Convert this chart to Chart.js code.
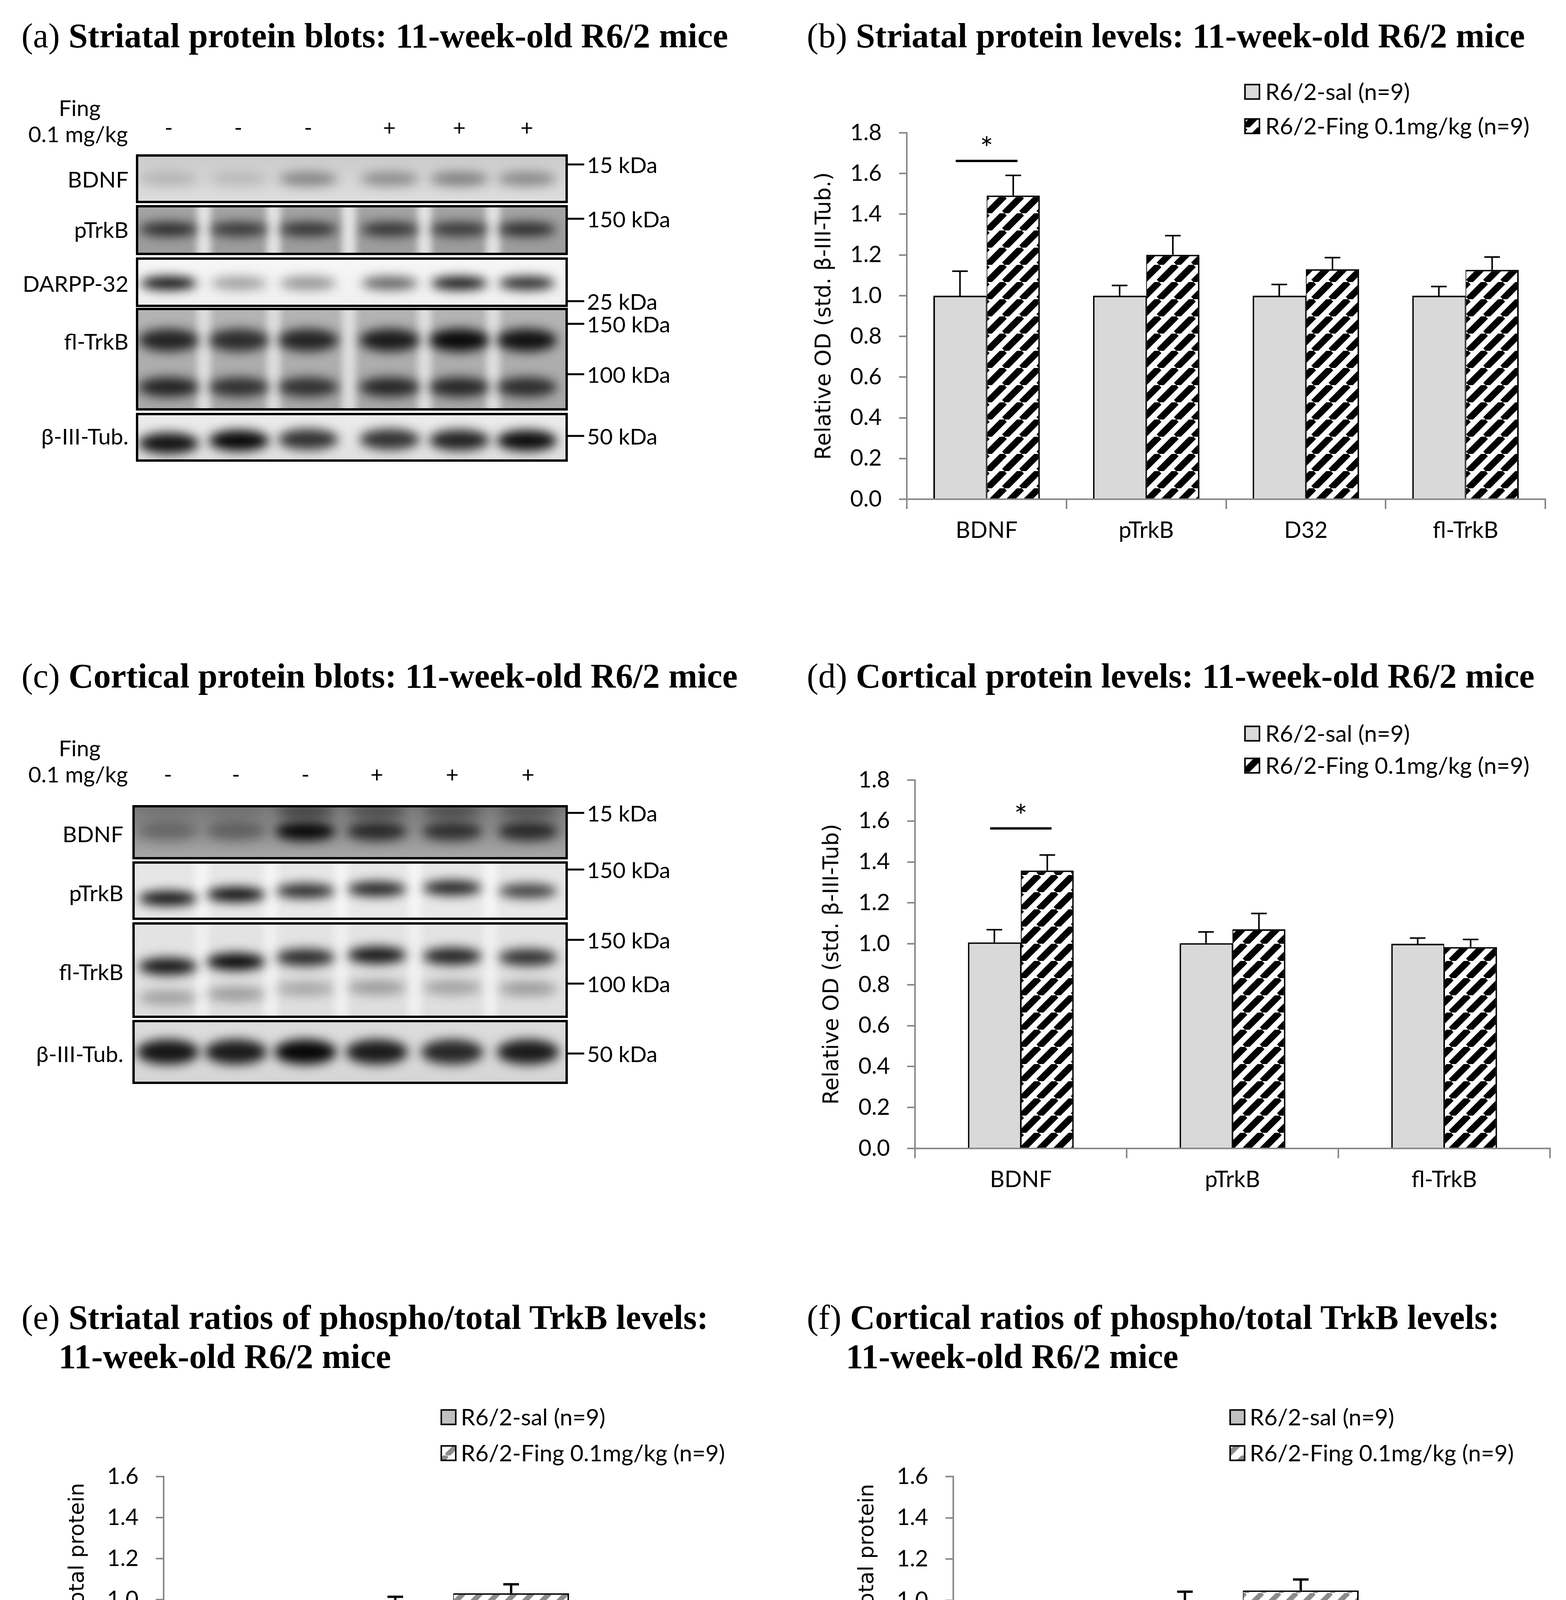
<!DOCTYPE html>
<html>
<head>
<meta charset="utf-8">
<title>R6/2 fingolimod blots</title>
<script src="https://cdn.jsdelivr.net/npm/chart.js@4.4.1/dist/chart.umd.min.js"></script>
<style>
  html, body { margin: 0; padding: 0; background: #fff; }
  #page { position: relative; width: 4010px; height: 4773px; overflow: hidden; background: #fff; }
  .title { position: absolute; font-family: "Liberation Serif", serif; font-weight: bold; white-space: nowrap; line-height: 1; color: #000; }
  .title .tag { font-weight: normal; }
  .lbl { position: absolute; font-family: Lato, sans-serif; font-size: 57px; white-space: nowrap; line-height: 1; color: #000; }
  canvas { position: absolute; }
</style>
</head>
<body>
<div id="page">
  <canvas id="blots" width="2000" height="2900" style="left:0;top:0"></canvas>
  <canvas id="chartB" style="left:2000px;top:150px"></canvas>
  <canvas id="chartD" style="left:2000px;top:1800px"></canvas>
  <canvas id="chartE" style="left:0px;top:3550px"></canvas>
  <canvas id="chartF" style="left:2000px;top:3550px"></canvas>
</div>
<script>
// ---- data ----
const seriesNames = ['R6/2-sal (n=9)', 'R6/2-Fing 0.1mg/kg (n=9)'];

const striatalLabels = ['BDNF', 'pTrkB', 'D32', 'fl-TrkB'];
const striatalSal = [1.0, 1.0, 1.0, 1.0];
const striatalSalSem = [0.12, 0.05, 0.055, 0.045];
const striatalFing = [1.492, 1.201, 1.13, 1.127];
const striatalFingSem = [0.099, 0.094, 0.057, 0.063];
const striatalSig = [{ index: 0, line: 1.662, star: 1.75 }];

const corticalLabels = ['BDNF', 'pTrkB', 'fl-TrkB'];
const corticalSal = [1.007, 1.003, 1.0];
const corticalSalSem = [0.062, 0.055, 0.028];
const corticalFing = [1.358, 1.071, 0.984];
const corticalFingSem = [0.076, 0.077, 0.037];
const corticalSig = [{ index: 0, line: 1.564, star: 1.65 }];

const ratioLabels = ['pTrkB/fl-TrkB'];
const striatalRatioSal = [0.985];
const striatalRatioSalSem = [0.029];
const striatalRatioFing = [1.031];
const striatalRatioFingSem = [0.044];
const corticalRatioSal = [0.992];
const corticalRatioSalSem = [0.05];
const corticalRatioFing = [1.048];
const corticalRatioFingSem = [0.053];

const levelTickMax = 1.8;
const ratioTickMax = 1.6;
const tickStep = 0.2;

// blot lanes and labels
const fingSigns = ['-', '-', '-', '+', '+', '+'];
const striatalRows = ['BDNF', 'pTrkB', 'DARPP-32', 'fl-TrkB', 'β-III-Tub.'];
const striatalMarkers = ['15 kDa', '150 kDa', '25 kDa', '150 kDa', '100 kDa', '50 kDa'];
const corticalRows = ['BDNF', 'pTrkB', 'fl-TrkB', 'β-III-Tub.'];
const corticalMarkers = ['15 kDa', '150 kDa', '150 kDa', '100 kDa', '50 kDa'];

// band darkness per lane
const stBdnfBand = [0.15, 0.12, 0.38, 0.34, 0.4, 0.36];
const stPtrkbBand = [0.75, 0.68, 0.7, 0.7, 0.68, 0.75];
const stDarppBand = [0.95, 0.35, 0.4, 0.6, 0.92, 0.85];
const stFlUpper = [0.8, 0.75, 0.8, 0.85, 0.95, 0.9];
const stFlLower = [0.8, 0.72, 0.72, 0.78, 0.78, 0.75];
const stTubBand = [0.92, 0.97, 0.78, 0.78, 0.85, 0.95];
const cxBdnfBand = [0.28, 0.32, 0.95, 0.72, 0.68, 0.72];
const cxBdnfTop = [0.08, 0.1, 0.55, 0.45, 0.45, 0.4];
const cxPtrkbBand = [0.92, 0.95, 0.82, 0.85, 0.85, 0.72];
const cxFlUpper = [0.9, 0.97, 0.82, 0.9, 0.85, 0.78];
const cxFlLower = [0.28, 0.3, 0.25, 0.3, 0.28, 0.3];
const cxTubBand = [0.9, 0.88, 0.97, 0.88, 0.82, 0.88];

// ---- styles ----
const axisGray = '#898989';
const salLight = '#d9d9d9';
const salMid = '#c0c0c0';
const tickFont = 58;

function stripePattern(bg, fg, size, lw) {
  const c = document.createElement('canvas');
  c.width = size; c.height = size;
  const g = c.getContext('2d');
  g.fillStyle = bg; g.fillRect(0, 0, size, size);
  g.strokeStyle = fg; g.lineWidth = lw;
  for (const k of [-size, 0, size]) {
    g.beginPath(); g.moveTo(k, size); g.lineTo(k + size, 0); g.stroke();
  }
  return g.createPattern(c, 'repeat');
}
const blackHatch = stripePattern('#fff', '#000', 44, 17);
const grayHatch = stripePattern('#fff', '#8c8c8c', 44, 13);

Chart.defaults.font.family = 'Lato';
Chart.defaults.color = '#000';

const boxLegend = {
  id: 'boxLegend',
  afterDraw(chart, args, o) {
    const ctx = chart.ctx;
    ctx.save();
    ctx.font = o.fontSize + 'px Lato';
    ctx.textBaseline = 'middle';
    chart.data.datasets.forEach((ds, i) => {
      const y = o.y[i];
      ctx.fillStyle = ds.backgroundColor;
      ctx.fillRect(o.x, y - o.box / 2, o.box, o.box);
      ctx.lineWidth = 4; ctx.strokeStyle = '#000';
      ctx.strokeRect(o.x, y - o.box / 2, o.box, o.box);
      ctx.fillStyle = '#000';
      ctx.fillText(ds.label, o.textX, y + 2);
    });
    ctx.restore();
  }
};

const errorBars = {
  id: 'errorBars',
  afterDatasetsDraw(chart, args, o) {
    const ctx = chart.ctx, ys = chart.scales.y;
    ctx.save();
    ctx.strokeStyle = '#000'; ctx.lineWidth = o.lineWidth;
    chart.data.datasets.forEach((ds, i) => {
      chart.getDatasetMeta(i).data.forEach((bar, j) => {
        const top = ys.getPixelForValue(ds.data[j] + o.sem[i][j]);
        ctx.beginPath();
        ctx.moveTo(bar.x, bar.y); ctx.lineTo(bar.x, top);
        ctx.moveTo(bar.x - o.cap / 2, top); ctx.lineTo(bar.x + o.cap / 2, top);
        ctx.stroke();
      });
    });
    ctx.restore();
  }
};

const sigMarks = {
  id: 'sigMarks',
  afterDatasetsDraw(chart, args, o) {
    if (!o.marks) return;
    const ctx = chart.ctx, ys = chart.scales.y;
    ctx.save();
    o.marks.forEach(m => {
      const a = chart.getDatasetMeta(0).data[m.index];
      const b = chart.getDatasetMeta(1).data[m.index];
      const cx = (a.x + b.x) / 2, half = a.width * 0.58;
      const ly = ys.getPixelForValue(m.line);
      ctx.strokeStyle = '#000'; ctx.lineWidth = 6;
      ctx.beginPath(); ctx.moveTo(cx - half, ly); ctx.lineTo(cx + half, ly); ctx.stroke();
      ctx.fillStyle = '#000';
      ctx.font = '80px Lato';
      ctx.textAlign = 'center'; ctx.textBaseline = 'middle';
      ctx.fillText('*', cx, ys.getPixelForValue(m.star) + 16);
    });
    ctx.restore();
  }
};

function barChart(id, box, c) {
  const el = document.getElementById(id);
  el.width = box.width; el.height = box.height;
  return new Chart(el.getContext('2d'), {
    type: 'bar',
    data: {
      labels: c.labels,
      datasets: [
        { label: seriesNames[0], data: c.sal, backgroundColor: c.salFill, borderColor: '#000',
          borderWidth: { left: 4, top: 4, right: 2, bottom: 0 }, borderSkipped: false,
          categoryPercentage: c.catPct, barPercentage: 1 },
        { label: seriesNames[1], data: c.fing, backgroundColor: c.fingFill, borderColor: '#000',
          borderWidth: { left: 2, top: 4, right: 4, bottom: 0 }, borderSkipped: false,
          categoryPercentage: c.catPct, barPercentage: 1 }
      ]
    },
    options: {
      responsive: false,
      animation: false,
      devicePixelRatio: 1,
      layout: { padding: { left: 0, top: c.area.top - box.top, right: box.left + box.width - c.area.right, bottom: 0 } },
      plugins: {
        legend: { display: false },
        tooltip: { enabled: false },
        boxLegend: { x: c.legend.x - box.left, textX: c.legend.textX - box.left,
                     y: c.legend.y.map(v => v - box.top), box: 37, fontSize: 59 },
        errorBars: { sem: c.sem, cap: 40, lineWidth: c.errWidth },
        sigMarks: { marks: c.sig }
      },
      scales: {
        x: {
          grid: { display: true, drawOnChartArea: false, drawTicks: true, tickLength: 25, color: axisGray, lineWidth: 4, offset: true },
          border: { color: axisGray, width: 4 },
          ticks: { font: { size: tickFont }, padding: c.xPad, color: '#000', maxRotation: 0 },
          afterFit: s => { s.height = box.top + box.height - c.area.bottom; }
        },
        y: {
          min: 0, max: c.max,
          ticks: { stepSize: tickStep, callback: v => v.toFixed(1), font: { size: tickFont }, padding: 44, color: '#000' },
          grid: { drawOnChartArea: false, drawTicks: true, tickLength: 20, color: axisGray, lineWidth: 4 },
          border: { color: axisGray, width: 4 },
          title: { display: true, text: c.yTitle, color: '#000',
                   font: { family: 'DejaVu Sans', size: c.yTitleSize, lineHeight: 1.2 },
                   padding: { top: c.yTitleX - box.left - c.yTitleSize * 0.6, bottom: 0 } },
          afterFit: s => { s.width = c.area.left - box.left; }
        }
      }
    },
    plugins: [boxLegend, errorBars, sigMarks]
  });
}

// (b) striatal levels
barChart('chartB', { left: 2000, top: 150, width: 2010, height: 1300 }, {
  labels: striatalLabels, sal: striatalSal, fing: striatalFing,
  sem: [striatalSalSem, striatalFingSem], sig: striatalSig,
  salFill: salLight, fingFill: blackHatch, catPct: 0.667, max: levelTickMax,
  area: { left: 2322, right: 3957, top: 340, bottom: 1278 },
  legend: { x: 3188, textX: 3240, y: [235, 323] },
  yTitle: 'Relative OD (std. β-III-Tub.)', yTitleSize: 55, yTitleX: 2112,
  errWidth: 4, xPad: 20
});

// (d) cortical levels
barChart('chartD', { left: 2000, top: 1800, width: 2010, height: 1320 }, {
  labels: corticalLabels, sal: corticalSal, fing: corticalFing,
  sem: [corticalSalSem, corticalFingSem], sig: corticalSig,
  salFill: salLight, fingFill: blackHatch, catPct: 0.5, max: levelTickMax,
  area: { left: 2343, right: 3969, top: 1997, bottom: 2940 },
  legend: { x: 3188, textX: 3240, y: [1878, 1960] },
  yTitle: 'Relative OD (std. β-III-Tub)', yTitleSize: 55, yTitleX: 2132,
  errWidth: 4, xPad: 20
});

// (e) striatal ratio
barChart('chartE', { left: 0, top: 3550, width: 2000, height: 1223 }, {
  labels: ratioLabels, sal: striatalRatioSal, fing: striatalRatioFing,
  sem: [striatalRatioSalSem, striatalRatioFingSem], sig: null,
  salFill: salMid, fingFill: grayHatch, catPct: 0.4, max: ratioTickMax,
  area: { left: 419, right: 1902, top: 3780, bottom: 4620 },
  legend: { x: 1130, textX: 1180, y: [3628, 3720] },
  yTitle: 'Std. OD phospho/total protein', yTitleSize: 54, yTitleX: 200,
  errWidth: 6, xPad: 30
});

// (f) cortical ratio
barChart('chartF', { left: 2000, top: 3550, width: 2010, height: 1223 }, {
  labels: ratioLabels, sal: corticalRatioSal, fing: corticalRatioFing,
  sem: [corticalRatioSalSem, corticalRatioFingSem], sig: null,
  salFill: salMid, fingFill: grayHatch, catPct: 0.4, max: ratioTickMax,
  area: { left: 2441, right: 3924, top: 3780, bottom: 4625 },
  legend: { x: 3150, textX: 3200, y: [3628, 3720] },
  yTitle: 'Std. OD phospho/total protein', yTitleSize: 54, yTitleX: 2222,
  errWidth: 6, xPad: 30
});

// ---- text helpers ----
const page = document.getElementById('page');
function addText(txt, x, y, anchor, cls) {
  const d = document.createElement('div');
  d.className = cls || 'lbl';
  d.textContent = txt;
  d.style.left = x + 'px'; d.style.top = y + 'px';
  const tx = anchor === 'r' ? '-100%' : anchor === 'c' ? '-50%' : '0';
  d.style.transform = 'translate(' + tx + ',-50%)';
  page.appendChild(d);
  return d;
}
function addTitle(tag, rest, x, y) {
  const d = document.createElement('div');
  d.className = 'title';
  d.innerHTML = (tag ? '<span class="tag">' + tag + '</span> ' : '') + rest;
  d.style.left = x + 'px'; d.style.top = y + 'px';
  d.style.transform = 'translateY(-50%)';
  page.appendChild(d);
  return d;
}
const titles = [
  addTitle('(a)', 'Striatal protein blots: 11-week-old R6/2 mice', 55, 91),
  addTitle('(b)', 'Striatal protein levels: 11-week-old R6/2 mice', 2066, 91),
  addTitle('(c)', 'Cortical protein blots: 11-week-old R6/2 mice', 55, 1730),
  addTitle('(d)', 'Cortical protein levels: 11-week-old R6/2 mice', 2066, 1730),
  addTitle('(e)', 'Striatal ratios of phospho/total TrkB levels:', 55, 3372),
  addTitle('', '11-week-old R6/2 mice', 150, 3472),
  addTitle('(f)', 'Cortical ratios of phospho/total TrkB levels:', 2066, 3372),
  addTitle('', '11-week-old R6/2 mice', 2166, 3472)
];
titles.forEach(t => { t.style.fontSize = '100px'; });
const fitSize = 100 * 1840 / titles[1].offsetWidth;
titles.forEach(t => { t.style.fontSize = fitSize.toFixed(1) + 'px'; });

// ---- blots ----
const bctx = document.getElementById('blots').getContext('2d');
function drawBlot(lanes, b) {
  const w = b.x1 - b.x0, h = b.y1 - b.y0;
  bctx.save();
  bctx.beginPath(); bctx.rect(b.x0, b.y0, w, h); bctx.clip();
  const g = bctx.createLinearGradient(0, b.y0, 0, b.y1);
  g.addColorStop(0, b.bg[0]); g.addColorStop(1, b.bg[1]);
  bctx.fillStyle = g; bctx.fillRect(b.x0, b.y0, w, h);
  if (b.gap) {
    bctx.filter = 'blur(9px)';
    bctx.fillStyle = b.gap;
    for (let i = 0; i < lanes.length - 1; i++) {
      const mx = (lanes[i] + lanes[i + 1]) / 2;
      bctx.fillRect(mx - 18, b.y0 - 30, 36, h + 60);
    }
  }
  bctx.filter = 'blur(14px)';
  b.bands.forEach(band => {
    lanes.forEach((lx, i) => {
      const y = Array.isArray(band.y) ? band.y[i] : band.y;
      bctx.fillStyle = 'rgba(0,0,0,' + band.alpha[i] + ')';
      bctx.beginPath();
      bctx.ellipse(lx, y, band.w / 2, band.h / 2, 0, 0, Math.PI * 2);
      bctx.fill();
    });
  });
  bctx.restore();
  bctx.lineWidth = 6; bctx.strokeStyle = '#000';
  bctx.strokeRect(b.x0, b.y0, w, h);
}
function markers(list, ys, x0) {
  bctx.lineWidth = 5; bctx.strokeStyle = '#000';
  list.forEach((m, i) => {
    bctx.beginPath(); bctx.moveTo(x0, ys[i]); bctx.lineTo(x0 + 45, ys[i]); bctx.stroke();
    addText(m, x0 + 52, ys[i], 'l');
  });
}

// (a) striatal blots
const stLanes = [432, 612, 789, 998, 1176, 1349];
const stSignX = [432, 610, 789, 997, 1176, 1349];
drawBlot(stLanes, { x0: 351, x1: 1451, y0: 398, y1: 517, bg: ['#cbcbcb', '#dedede'],
  bands: [{ y: 458, h: 36, w: 150, alpha: stBdnfBand }] });
drawBlot(stLanes, { x0: 351, x1: 1451, y0: 528, y1: 650, bg: ['#a4a4a4', '#9c9c9c'], gap: '#e2e2e2',
  bands: [{ y: 587, h: 36, w: 150, alpha: stPtrkbBand }] });
drawBlot(stLanes, { x0: 351, x1: 1451, y0: 662, y1: 783, bg: ['#f6f6f6', '#f0f0f0'],
  bands: [{ y: 725, h: 34, w: 145, alpha: stDarppBand }] });
drawBlot(stLanes, { x0: 351, x1: 1451, y0: 791, y1: 1048, bg: ['#b4b4b4', '#a8a8a8'], gap: '#dcdcdc',
  bands: [{ y: 871, h: 58, w: 155, alpha: stFlUpper }, { y: 991, h: 50, w: 155, alpha: stFlLower }] });
drawBlot(stLanes, { x0: 351, x1: 1451, y0: 1060, y1: 1179, bg: ['#ececec', '#e0e0e0'],
  bands: [{ y: [1135, 1128, 1125, 1125, 1127, 1128], h: 54, w: 155, alpha: stTubBand }] });
markers(striatalMarkers, [421, 560, 771, 829, 958, 1116], 1451);
addText('Fing', 204, 275, 'c');
addText('0.1 mg/kg', 200, 342, 'c');
fingSigns.forEach((s, i) => addText(s, stSignX[i], 325, 'c'));
[458, 587, 725, 873, 1116].forEach((y, i) => addText(striatalRows[i], 329, y, 'r'));

// (c) cortical blots
const cxLanes = [430, 604, 782, 965, 1158, 1352];
drawBlot(cxLanes, { x0: 342, x1: 1451, y0: 2064, y1: 2197, bg: ['#787878', '#a8a8a8'],
  bands: [{ y: 2078, h: 28, w: 150, alpha: cxBdnfTop }, { y: 2128, h: 48, w: 155, alpha: cxBdnfBand }] });
drawBlot(cxLanes, { x0: 342, x1: 1451, y0: 2208, y1: 2352, bg: ['#e6e6e6', '#e8e8e8'], gap: '#f4f4f4',
  bands: [{ y: [2300, 2290, 2281, 2276, 2273, 2281], h: 38, w: 150, alpha: cxPtrkbBand }] });
drawBlot(cxLanes, { x0: 342, x1: 1451, y0: 2364, y1: 2603, bg: ['#e4e4e4', '#dedede'], gap: '#efefef',
  bands: [{ y: [2474, 2462, 2451, 2445, 2448, 2451], h: 44, w: 150, alpha: cxFlUpper },
          { y: [2554, 2545, 2531, 2528, 2528, 2531], h: 38, w: 150, alpha: cxFlLower }] });
drawBlot(cxLanes, { x0: 342, x1: 1451, y0: 2614, y1: 2772, bg: ['#dcdcdc', '#d6d6d6'],
  bands: [{ y: 2693, h: 64, w: 160, alpha: cxTubBand }] });
markers(corticalMarkers, [2081, 2226, 2406, 2518, 2697], 1451);
addText('Fing', 204, 1914, 'c');
addText('0.1 mg/kg', 200, 1981, 'c');
fingSigns.forEach((s, i) => addText(s, cxLanes[i], 1981, 'c'));
[2134, 2285, 2487, 2697].forEach((y, i) => addText(corticalRows[i], 316, y, 'r'));
</script>
</body>
</html>
